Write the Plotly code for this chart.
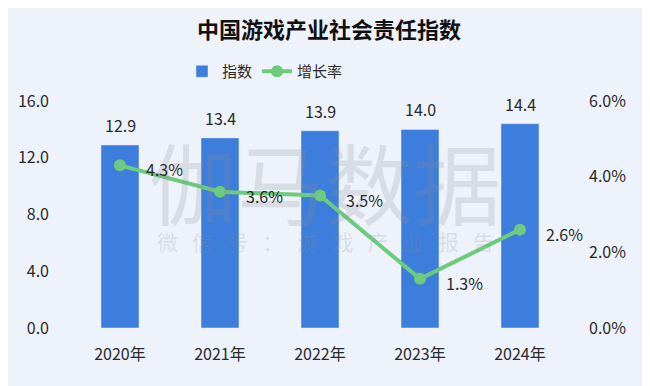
import plotly.graph_objects as go

years = ["2020年", "2021年", "2022年", "2023年", "2024年"]
index_vals = [12.9, 13.4, 13.9, 14.0, 14.4]
growth_vals = [4.3, 3.6, 3.5, 1.3, 2.6]
left_ticks = [0, 4, 8, 12, 16]
right_ticks = [0, 2, 4, 6]

FONT = "Noto Sans CJK SC"
BAR = "#3D7DDB"
GREEN = "#6CCB7C"
BG = "#EEF2FB"
TXT = "#2a2a2a"

W, H = 642, 378

fig = go.Figure()
fig.add_trace(go.Bar(x=years, y=index_vals, name="指数", marker_color=BAR,
                     width=0.38, yaxis="y"))
fig.add_trace(go.Scatter(x=years, y=growth_vals, name="增长率", mode="lines+markers",
                         line=dict(color=GREEN, width=4), marker=dict(size=12, color=GREEN),
                         yaxis="y2"))

ann = []
# watermark (drawn first, beneath labels)
ann.append(dict(x=0.51, y=0.655, xref="paper", yref="paper", text="伽马数据", showarrow=False,
                yanchor="middle", font=dict(size=88, color="rgba(140,140,150,0.22)", family=FONT)))
ann.append(dict(x=0.51, y=0.385, xref="paper", yref="paper",
                text="微   信   号   ：   游   戏   产   业   报   告",
                showarrow=False, font=dict(size=21, color="rgba(140,140,150,0.22)", family=FONT)))
for x, v in zip(years, index_vals):
    ann.append(dict(x=x, y=v, xref="x", yref="y", text=f"{v:.1f}", showarrow=False,
                    yanchor="bottom", yshift=6, font=dict(size=16, color=TXT, family=FONT)))
for x, v in zip(years, growth_vals):
    ann.append(dict(x=x, y=v, xref="x", yref="y2", text=f"{v:.1f}%", showarrow=False,
                    xanchor="left", xshift=24, yshift=-4, font=dict(size=16, color=TXT, family=FONT)))

fig.update_layout(
    width=W, height=H,
    paper_bgcolor=BG, plot_bgcolor=BG,
    margin=dict(l=62, r=80, t=93, b=58, autoexpand=False),
    font=dict(family=FONT, size=16, color=TXT),
    title=dict(text="<b>中国游戏产业社会责任指数</b>", x=0.5, xanchor="center",
               y=1 - 22 / H, yanchor="middle", yref="container",
               font=dict(size=22, color="#111", family=FONT)),
    legend=dict(orientation="h", x=0.39, xanchor="center", y=1.13, yanchor="middle",
                font=dict(size=15, color=TXT, family=FONT), bgcolor="rgba(0,0,0,0)",
                itemwidth=30, traceorder="normal"),
    xaxis=dict(range=[-0.5, 4.5], showgrid=False, zeroline=False, showline=False, ticks="outside",
               ticklen=0, ticklabelstandoff=12, tickfont=dict(size=16, color=TXT), automargin=False),
    yaxis=dict(range=[0, 16], tickvals=left_ticks, ticktext=[f"{t:.1f}" for t in left_ticks],
               showgrid=False, zeroline=False, showline=False, ticklabelstandoff=20,
               tickfont=dict(size=16, color=TXT), automargin=False),
    yaxis2=dict(range=[0, 6], overlaying="y", side="right", tickvals=right_ticks,
                ticktext=[f"{t:.1f}%" for t in right_ticks], showgrid=False, zeroline=False,
                showline=False, ticklabelstandoff=18, tickfont=dict(size=16, color=TXT),
                automargin=False),
    annotations=ann,
)
fig.write_html("out.html")
